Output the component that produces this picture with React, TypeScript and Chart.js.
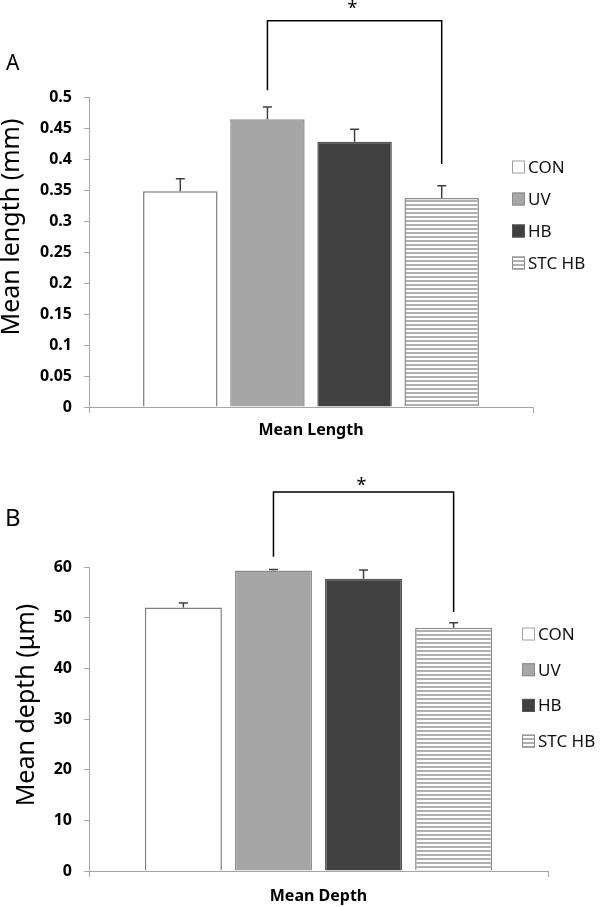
import React, { useEffect, useRef } from "react";
import { Chart, registerables } from "chart.js";
Chart.register(...registerables);

// ---------- data ----------
const groups = ["CON", "UV", "HB", "STC HB"];
const lengthCategory = ["Mean Length"];
const lengthMeans = [0.348, 0.464, 0.428, 0.337];
const lengthErrors = [0.02, 0.02, 0.02, 0.02];
const lengthTicks = ["0", "0.05", "0.1", "0.15", "0.2", "0.25", "0.3", "0.35", "0.4", "0.45", "0.5"];
const depthCategory = ["Mean Depth"];
const depthMeans = [52.0, 59.3, 57.7, 48.0];
const depthErrors = [0.9, 0.2, 1.7, 1.0];
const depthTicks = ["0", "10", "20", "30", "40", "50", "60"];
// significance bracket: from group, to group, left foot, top, right foot, star level
const lengthBracket = [1, 3, 0.511, 0.623, 0.392, 0.647];
const depthBracket = [1, 3, 62.0, 74.8, 51.1, 76.7];

// ---------- styles ----------
const FONT = "'Noto Sans', 'Open Sans', sans-serif";
const fills = ["#ffffff", "#a6a6a6", "#404040", "pattern"];
const borders = ["#7f7f7f", "#8c8c8c", "#555555", "#8c8c8c"];
const AXIS = "#a6a6a6";

type Cfg = {
  category: string[];
  means: number[];
  errors: number[];
  ticks: string[];
  bracket: number[];
  yMax: number;
  step: number;
  height: number;
  padTop: number;
  padRight: number;
  xHeight: number;
  xPad: number;
  title: string;
  titleX: number;
  titleY: number;
  titleSize: number;
  letter: string;
  letterX: number;
  letterY: number;
  letterSize: number;
  legendX: number;
  legendY: number;
  legendGap: number;
};

const panelA: Cfg = {
  category: lengthCategory,
  means: lengthMeans,
  errors: lengthErrors,
  ticks: lengthTicks,
  bracket: lengthBracket,
  yMax: 0.5,
  step: 0.05,
  height: 450,
  padTop: 97,
  padRight: 67,
  xHeight: 43,
  xPad: 8,
  title: "Mean length (mm)",
  titleX: 12,
  titleY: 227,
  titleSize: 25,
  letter: "A",
  letterX: 6,
  letterY: 70,
  letterSize: 21,
  legendX: 512,
  legendY: 167,
  legendGap: 32,
};

const panelB: Cfg = {
  category: depthCategory,
  means: depthMeans,
  errors: depthErrors,
  ticks: depthTicks,
  bracket: depthBracket,
  yMax: 60,
  step: 10,
  height: 457,
  padTop: 117,
  padRight: 52,
  xHeight: 36,
  xPad: 9.5,
  title: "Mean depth (\u03bcm)",
  titleX: 27,
  titleY: 255,
  titleSize: 25,
  letter: "B",
  letterX: 5,
  letterY: 76,
  letterSize: 24,
  legendX: 522,
  legendY: 184,
  legendGap: 35.7,
};

function makePattern(ctx: CanvasRenderingContext2D): CanvasPattern | string {
  const c = document.createElement("canvas");
  c.width = 4;
  c.height = 4;
  const p = c.getContext("2d")!;
  p.fillStyle = "#ffffff";
  p.fillRect(0, 0, 4, 4);
  p.fillStyle = "#b0b0b0";
  p.fillRect(0, 0, 4, 2);
  return ctx.createPattern(c, "repeat") || "#cccccc";
}

function Panel({ cfg }: { cfg: Cfg }) {
  const ref = useRef<HTMLCanvasElement>(null);
  useEffect(() => {
    const canvas = ref.current!;
    const ctx0 = canvas.getContext("2d")!;
    const pattern = makePattern(ctx0);
    const fillOf = (i: number) => (fills[i] === "pattern" ? pattern : fills[i]);

    const decor = {
      id: "decor",
      afterDatasetsDraw(chart: any) {
        const ctx: CanvasRenderingContext2D = chart.ctx;
        const y = chart.scales.y;
        ctx.save();
        // error bars
        ctx.strokeStyle = "#404040";
        ctx.lineWidth = 1.5;
        cfg.means.forEach((m, i) => {
          const bar = chart.getDatasetMeta(i).data[0];
          const x = bar.x;
          const y0 = y.getPixelForValue(m);
          const y1 = y.getPixelForValue(m + cfg.errors[i]);
          ctx.beginPath();
          ctx.moveTo(x, y0);
          ctx.lineTo(x, y1);
          ctx.moveTo(x - 4.5, y1);
          ctx.lineTo(x + 4.5, y1);
          ctx.stroke();
        });
        // bracket
        const [from, to, leftV, topV, rightV, starV] = cfg.bracket;
        const xl = chart.getDatasetMeta(from).data[0].x;
        const xr = chart.getDatasetMeta(to).data[0].x;
        ctx.strokeStyle = "#000000";
        ctx.lineWidth = 1.5;
        ctx.beginPath();
        ctx.moveTo(xl, y.getPixelForValue(leftV));
        ctx.lineTo(xl, y.getPixelForValue(topV));
        ctx.lineTo(xr, y.getPixelForValue(topV));
        ctx.lineTo(xr, y.getPixelForValue(rightV));
        ctx.stroke();
        ctx.fillStyle = "#000000";
        ctx.font = `18px ${FONT}`;
        ctx.textAlign = "center";
        ctx.textBaseline = "middle";
        ctx.fillText("*", (xl + xr) / 2 - 2, y.getPixelForValue(starV) + 3);

        // panel letter
        ctx.textAlign = "left";
        ctx.textBaseline = "alphabetic";
        ctx.font = `${cfg.letterSize}px ${FONT}`;
        ctx.fillText(cfg.letter, cfg.letterX, cfg.letterY);

        // y title
        ctx.save();
        ctx.translate(cfg.titleX, cfg.titleY);
        ctx.rotate(-Math.PI / 2);
        ctx.textAlign = "center";
        ctx.textBaseline = "middle";
        ctx.font = `${cfg.titleSize}px ${FONT}`;
        ctx.fillText(cfg.title, 0, 0);
        ctx.restore();

        // legend
        groups.forEach((g, i) => {
          const cy = cfg.legendY + i * cfg.legendGap;
          const bx = cfg.legendX;
          ctx.fillStyle = fillOf(i) as any;
          ctx.fillRect(bx, cy - 6.5, 13, 13);
          ctx.strokeStyle = i === 0 ? "#a0a0a0" : borders[i];
          ctx.lineWidth = 1;
          ctx.strokeRect(bx + 0.5, cy - 6, 12, 12);
          ctx.fillStyle = "#111111";
          ctx.font = `17px ${FONT}`;
          ctx.textAlign = "left";
          ctx.textBaseline = "middle";
          ctx.fillText(g, bx + 16, cy + 1);
        });
        ctx.restore();
      },
    };

    const chart = new Chart(canvas, {
      type: "bar",
      data: {
        labels: cfg.category,
        datasets: groups.map((g, i) => ({
          label: g,
          data: [cfg.means[i]],
          backgroundColor: fillOf(i) as any,
          borderColor: borders[i],
          borderWidth: 1.5,
          categoryPercentage: 0.785,
          barPercentage: 0.855,
        })),
      },
      options: {
        responsive: false,
        animation: false,
        layout: { padding: { top: cfg.padTop, right: cfg.padRight, left: 0, bottom: 0 } },
        plugins: { legend: { display: false }, tooltip: { enabled: false } },
        scales: {
          x: {
            grid: { display: true, drawOnChartArea: false, drawTicks: true, tickLength: 6, color: AXIS, offset: true },
            border: { color: AXIS, width: 1 },
            ticks: { font: { family: FONT, size: 16, weight: "bold" }, color: "#000", padding: cfg.xPad, maxRotation: 0 },
            afterFit: (s: any) => {
              s.height = cfg.xHeight;
            },
          },
          y: {
            min: 0,
            max: cfg.yMax,
            ticks: {
              stepSize: cfg.step,
              font: { family: FONT, size: 16, weight: "bold" },
              color: "#000",
              padding: 12,
              callback: (v: any, i: number) => cfg.ticks[i] ?? String(v),
            },
            grid: { drawOnChartArea: false, tickLength: 5, color: AXIS },
            border: { color: AXIS, width: 1 },
            afterFit: (s: any) => {
              s.width = 89;
            },
          },
        },
      },
      plugins: [decor],
    } as any);
    return () => chart.destroy();
  }, [cfg]);
  return (
    <canvas
      ref={ref}
      width={600}
      height={cfg.height}
      style={{ display: "block", width: 600, height: cfg.height }}
    />
  );
}

export default function App() {
  return (
    <div style={{ position: "absolute", left: 0, top: 0, width: 600, height: 907, background: "#ffffff" }}>
      <Panel cfg={panelA} />
      <Panel cfg={panelB} />
    </div>
  );
}
